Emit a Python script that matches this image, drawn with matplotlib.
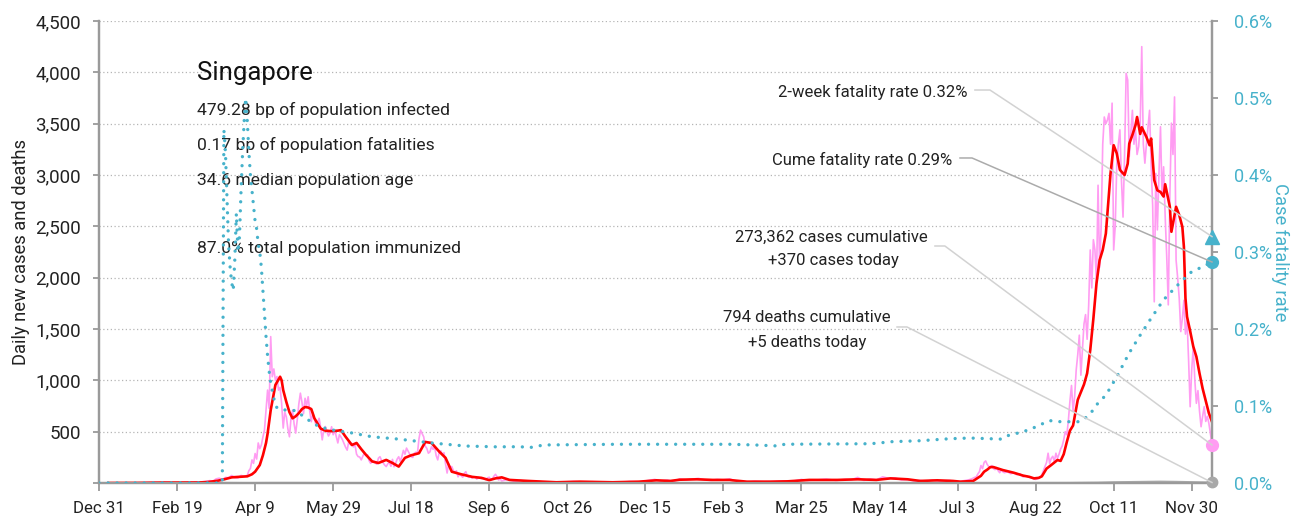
import numpy as np
import pandas as pd
import matplotlib
matplotlib.use("Agg")
import matplotlib.pyplot as plt
import matplotlib.dates as mdates
from matplotlib.lines import Line2D
from matplotlib.ticker import FuncFormatter, MultipleLocator

START = pd.Timestamp("2019-12-31")
LAST_DAY = 713  # Dec 13, 2021

# Daily new cases (day offset from Dec 31, 2019 -> cases)
case_days = [
    0, 22, 23, 27, 31, 35, 38, 42, 46, 50, 54, 58, 62, 65, 68, 71, 73, 75, 77, 79,
    81, 83, 85, 87, 89, 91, 93, 95,
    96, 97, 98, 99, 100, 101, 102, 103, 104, 105, 106, 107, 108, 109, 110, 111, 112,
    113, 114, 115, 116, 117, 118, 119, 120, 121, 122, 123, 124, 125, 126, 127, 128,
    129, 130, 131, 132, 133, 134, 135, 136, 137, 138, 139, 140, 141, 142, 143, 144,
    145, 146, 147, 148, 149, 150, 151, 152, 153, 154, 155, 156, 157, 158, 159, 160,
    161, 162, 163, 164, 165, 166, 167, 168, 169, 170, 171, 172, 173, 174, 175, 176,
    177, 178, 179, 180, 181, 182, 183, 184, 185, 186, 187, 188, 189, 190, 191, 192,
    193, 194, 195, 196, 197, 198, 199, 200, 201, 202, 203, 204, 205, 206, 207, 208,
    209, 210, 211, 212, 213, 214, 215, 216, 217, 218, 219, 220, 221, 222, 223, 224,
    225, 226, 227, 228, 229, 230, 231, 232, 233, 234, 235, 236, 237, 238, 239, 240,
    241, 242, 243, 244, 245, 246, 247, 248, 249, 250, 251, 252, 253, 254, 255, 256,
    257, 258,
    262, 266, 270, 275, 280, 286, 292, 298, 304, 310, 316, 322, 328, 334, 340, 346,
    352, 356, 360, 364, 368, 372, 376, 380, 384, 388, 392, 396, 400, 404, 408, 412,
    416, 420, 426, 432, 438, 444, 450, 454, 460, 466, 472, 478, 482, 486, 490, 494,
    498, 502, 506, 510, 514, 518, 522, 526, 530, 534, 538,
    540, 545, 548, 551, 553, 555, 557, 559, 561, 562, 563, 564, 565, 566, 567, 568,
    569, 570, 571, 572, 573, 574, 575, 576, 577, 578, 579, 580, 582, 584, 586, 588,
    590, 592, 594, 596, 598, 599,
    600, 601, 602, 603, 604, 605, 606, 607, 608, 609, 610, 611, 612, 613, 614, 615,
    616, 617, 618, 619, 620, 621, 622, 623, 624, 625, 626, 627, 628, 629, 630, 631,
    632, 633, 634, 635, 636, 637, 638, 639, 640, 641, 642, 643, 644, 645, 646, 647,
    648, 649, 650, 651, 652, 653, 654, 655, 656, 657, 658, 659, 660, 661, 662, 663,
    664, 665, 666, 667, 668, 669, 670, 671, 672, 673, 674, 675, 676, 677, 678, 679,
    680, 681, 682, 683, 684, 685, 686, 687, 688, 689, 690, 691, 692, 693, 694, 695,
    696, 697, 698, 699, 700, 701, 702, 703, 704, 705, 706, 707, 708, 709, 710, 711,
    712, 713,
]
case_vals = [
    0, 0, 1, 3, 3, 6, 2, 7, 3, 1, 3, 5, 8, 10, 14, 23, 17, 40, 47, 32,
    54, 51, 73, 52, 49, 74, 65, 75,
    120, 142, 225, 191, 287, 233, 390, 334, 370, 447, 515, 710, 905, 728, 1426, 1035, 1111,
    1000, 1037, 905, 931, 775, 535, 690, 645, 528, 450, 632, 710, 573, 486, 615, 768,
    875, 788, 675, 825, 753, 840, 700, 597, 682, 620, 565, 590, 630, 544, 420, 518,
    550, 500, 458, 485, 548, 470, 515, 451, 390, 470, 448, 420, 383, 347, 320, 407,
    374, 386, 351, 370, 280, 257, 253, 225, 261, 292, 268, 275, 218, 191, 213, 214,
    195, 183, 242, 256, 220, 198, 175, 160, 187, 201, 163, 230, 158, 190, 233, 256,
    211, 256, 318, 280, 340, 310, 282, 256, 249, 290, 300, 290, 432, 515, 481, 450,
    359, 337, 290, 303, 354, 328, 353, 266, 225, 305, 313, 275, 295, 188, 97, 188,
    154, 160, 121, 102, 119, 60, 89, 72, 56, 93, 110, 64, 55, 68, 47, 58,
    60, 38, 54, 49, 42, 45, 40, 33, 51, 56, 27, 39, 67, 85, 61, 29,
    39, 20,
    35, 15, 25, 12, 18, 8, 5, 10, 15, 8, 12, 5, 9, 6, 15, 10,
    25, 35, 20, 28, 15, 40, 30, 38, 45, 30, 25, 35, 30, 40, 20, 15,
    10, 18, 12, 14, 20, 15, 35, 25, 30, 38, 25, 35, 30, 55, 25, 40,
    30, 60, 45, 50, 30, 35, 20, 25, 15, 30, 20,
    20, 25, 15, 10, 20, 25, 30, 40, 55, 60, 88, 110, 170, 140, 200, 215,
    180, 160, 150, 170, 140, 130, 150, 120, 100, 130, 110, 100, 110, 90, 100, 80,
    90, 60, 70, 55, 45, 40,
    35, 40, 50, 60, 80, 120, 160, 200, 290, 190, 240, 260, 210, 290, 240, 280,
    330, 360, 420, 500, 470, 610, 800, 950, 700, 840, 1100, 1250, 1440, 1050, 1300, 1550,
    1640, 1400, 1730, 2270, 1900, 2370, 2270, 1950, 2900, 2100, 2500, 3300, 3565, 3500, 3535, 3600,
    3300, 3700, 2270, 2500, 3100, 3300, 3440, 2950, 2590, 3200, 3990, 3925, 3180, 3400, 3630, 3300,
    3440, 3200, 3275, 3500, 4250, 3300, 3115, 3300, 3470, 3630, 3100, 2700, 1765, 3015, 2465, 3000,
    3470, 2800, 3080, 2600, 2205, 1735, 2800, 3505, 3200, 3760, 2170, 2000, 1800, 1475, 1600, 1780,
    1450, 1590, 1200, 743, 1100, 1330, 1000, 776, 900, 700, 548, 650, 743, 600, 650, 581,
    480, 370,
]

# 7-day average of new cases
avg_days = [
    6, 25, 40, 55, 64, 70, 76, 80, 85, 90, 95, 98, 100, 103, 105, 107, 108, 110, 113,
    116, 117, 118, 120, 122, 124, 126, 128, 130, 132, 134, 136, 138, 140, 142, 145,
    149, 153, 155, 158, 162, 165, 168, 171, 175, 179, 184, 188, 192, 196, 200, 205,
    209, 213, 218, 222, 226, 232, 239, 245, 250, 254, 258, 263, 275, 293, 308, 329,
    346, 357, 366, 372, 383, 393, 404, 406, 415, 430, 441, 455, 473, 486, 498, 507,
    518, 526, 537, 547, 552, 560, 562, 565, 567, 569, 571, 573, 576, 579, 586, 592,
    596, 599, 602, 604, 607, 610, 614, 616, 618, 620, 622, 624, 627, 631, 633, 635,
    637, 639, 641, 643, 645, 648, 650, 652, 654, 657, 659, 660, 662, 664, 665, 667,
    668, 671, 673, 674, 676, 678, 680, 682, 683, 686, 687, 690, 692, 694, 695, 696,
    697, 699, 701, 703, 705, 707, 709, 711, 713,
]
avg_vals = [
    0, 1, 4, 4, 5, 10, 22, 35, 55, 60, 65, 85, 110, 175, 270, 390, 480, 710, 955,
    1035, 1000, 905, 790, 690, 630, 650, 680, 720, 740, 735, 720, 630, 580, 530, 510,
    505, 510, 515, 450, 370, 390, 330, 275, 210, 195, 225, 195, 160, 245, 270, 290,
    400, 390, 305, 245, 110, 85, 60, 50, 28, 45, 55, 30, 20, 7, 13, 7,
    13, 26, 20, 32, 36, 30, 30, 26, 13, 13, 16, 30, 30, 36, 30, 45,
    36, 20, 26, 20, 13, 20, 40, 70, 110, 130, 155, 155, 140, 126, 100, 72,
    60, 45, 50, 65, 140, 175, 224, 215, 280, 400, 510, 560, 810, 960, 1068, 1295,
    1600, 1944, 2170, 2270, 2430, 3015, 3290, 3210, 3050, 3000, 3110, 3305, 3390, 3485, 3565, 3400,
    3465, 3370, 3290, 3355, 2950, 2850, 2835, 2790, 2910, 2690, 2447, 2690, 2610, 2495, 2300, 1800,
    1620, 1480, 1330, 1230, 1068, 920, 800, 680, 597,
]

# Cumulative case fatality rate, percent
cfr_days = [
    0, 79, 80, 81, 82, 83, 84, 85, 86, 87, 88, 89, 90, 91, 92, 93, 94, 95, 96, 97,
    98, 99, 100, 101, 102, 103, 104, 105, 106, 107, 108, 109, 110, 111, 112, 113, 115,
    118, 126, 130, 134, 141, 149, 162, 175, 192, 213, 235, 254, 270, 276, 285, 333,
    404, 420, 436, 439, 494, 500, 507, 526, 545, 558, 578, 582, 592, 598, 605, 609,
    616, 628, 633, 637, 640, 645, 652, 660, 667, 674, 682, 691, 699, 713,
]
cfr_vals = [
    0, 0, 0.459, 0.43, 0.37, 0.31, 0.28, 0.26, 0.25, 0.29, 0.35, 0.30, 0.32, 0.38, 0.43,
    0.47, 0.50, 0.47, 0.43, 0.40, 0.38, 0.36, 0.34, 0.33, 0.31, 0.30, 0.28, 0.25, 0.22,
    0.19, 0.165, 0.145, 0.13, 0.12, 0.11, 0.10, 0.096, 0.095, 0.094, 0.088, 0.082,
    0.073, 0.069, 0.065, 0.060, 0.057, 0.052, 0.048, 0.047, 0.0471, 0.046, 0.0494,
    0.0503, 0.0503, 0.0494, 0.048, 0.0503, 0.051, 0.052, 0.0536, 0.0549, 0.0575,
    0.0584, 0.057, 0.0614, 0.0666, 0.071, 0.0775, 0.081, 0.0796, 0.0796, 0.086, 0.095,
    0.104, 0.114, 0.138, 0.169, 0.192, 0.214, 0.238, 0.257, 0.273, 0.287,
]

# Daily deaths
death_days = [0, 81, 95, 110, 130, 160, 200, 300, 560, 620, 640, 650, 660, 670, 680, 690, 700, 713]
death_vals = [0, 1, 0, 1, 1, 0, 0, 0, 0, 1, 4, 8, 10, 12, 14, 12, 9, 5]

# Latest-day figures
two_week_cfr = 0.32
cume_cfr = 0.287
cases_today = 370
deaths_today = 5
cases_total = 273362
deaths_total = 794

info_lines = [
    "479.28 bp of population infected",
    "0.17 bp of population fatalities",
    "34.6 median population age",
    "87.0% total population immunized",
]

tick_step_days = 50
n_ticks = 15

PINK = "#ff9cf2"
RED = "#ff0000"
CYAN = "#47b2cb"
GREY = "#a8a8a8"
AXIS = "#9a9a9a"
TEXT = "#222222"

plt.rcParams["font.family"] = ["Roboto", "DejaVu Sans"]


def to_dates(days):
    return START + pd.to_timedelta(np.asarray(days, dtype=float), unit="D")


W, H = 1301, 522
fig = plt.figure(figsize=(W / 100, H / 100), dpi=100)
ax = fig.add_axes([99 / W, 39 / H, 1113 / W, 462 / H])
ax2 = ax.twinx()

end_date = START + pd.Timedelta(days=LAST_DAY)
ax.set_xlim(START, end_date)
ax.set_ylim(0, 4500)
ax2.set_ylim(0, 0.6)

# grid
ax.yaxis.set_major_locator(MultipleLocator(500))
ax.grid(axis="y", color="#b5b5b5", linestyle=(0, (1, 2)), linewidth=0.9)
ax.set_axisbelow(True)

# series
ax.plot(to_dates(case_days), case_vals, color=PINK, lw=1.2, zorder=2, solid_joinstyle="round")
ax.plot(to_dates(death_days), death_vals, color=GREY, lw=1.4, zorder=3)
ax.plot(to_dates(avg_days), avg_vals, color=RED, lw=1.9, zorder=4, solid_joinstyle="round")
ax2.plot(to_dates(cfr_days), cfr_vals, color=CYAN, lw=2.4,
         linestyle=(0, (0.01, 2.7)), dash_capstyle="round", zorder=3)

# end markers
ax2.plot([end_date], [two_week_cfr], marker="^", ms=9.5, color=CYAN, clip_on=False, zorder=6)
ax2.plot([end_date], [cume_cfr], marker="o", ms=8.5, color=CYAN, clip_on=False, zorder=6)
ax2.plot([end_date], [cases_today * 0.6 / 4500], marker="o", ms=8.5, color=PINK,
         clip_on=False, zorder=6)
ax2.plot([end_date], [deaths_today * 0.6 / 4500], marker="o", ms=7.5, color=GREY,
         clip_on=False, zorder=6)

# axes styling
for a in (ax, ax2):
    a.spines["top"].set_visible(False)
    for s in ("left", "right", "bottom"):
        a.spines[s].set_color(AXIS)
        a.spines[s].set_linewidth(1.6)

ax.yaxis.set_major_formatter(FuncFormatter(lambda v, p: "" if v == 0 else f"{int(v):,}"))
ax.tick_params(axis="y", length=4, width=1.3, color=AXIS, pad=9, labelsize=13.5, labelcolor=TEXT)

tick_dates = [START + pd.Timedelta(days=tick_step_days * k) for k in range(n_ticks)]
ax.set_xticks(tick_dates)
ax.set_xticklabels([f"{d:%b} {d.day}" for d in tick_dates])
ax.tick_params(axis="x", length=6, width=1.3, color=AXIS, pad=7, labelsize=12.2, labelcolor=TEXT)

ax2.yaxis.set_major_locator(MultipleLocator(0.1))
ax2.yaxis.set_major_formatter(FuncFormatter(lambda v, p: f"{v:.1f}%"))
ax2.tick_params(axis="y", length=4, width=1.3, color=AXIS, pad=12, labelsize=13, labelcolor=CYAN)

ax.set_ylabel("Daily new cases and deaths", fontsize=13.2, color=TEXT, labelpad=4)
ax2.set_ylabel("Case fatality rate", fontsize=13.2, color=CYAN, rotation=270, labelpad=12)

# country block
ax.text(0.0881, 0.8723, "Singapore", transform=ax.transAxes, fontsize=18.5,
        color="#111111", va="baseline", ha="left")
for y, line in zip([0.7965, 0.7208, 0.645, 0.4978], info_lines):
    ax.text(0.0881, y, line, transform=ax.transAxes, fontsize=12.6,
            color=TEXT, va="baseline", ha="left")

# callouts
ax.text(0.7799, 0.8355, f"2-week fatality rate {two_week_cfr:.2f}%", transform=ax.transAxes,
        fontsize=12, color=TEXT, ha="right", va="baseline")
ax.text(0.7664, 0.6883, f"Cume fatality rate {cume_cfr:.2f}%", transform=ax.transAxes,
        fontsize=12, color=TEXT, ha="right", va="baseline")
ax.text(0.6577, 0.5216, f"{cases_total:,} cases cumulative", transform=ax.transAxes,
        fontsize=12, color=TEXT, ha="center", va="baseline")
ax.text(0.6595, 0.4719, f"+{cases_today} cases today", transform=ax.transAxes,
        fontsize=12, color=TEXT, ha="center", va="baseline")
ax.text(0.6361, 0.3485, f"{deaths_total} deaths cumulative", transform=ax.transAxes,
        fontsize=12, color=TEXT, ha="center", va="baseline")
ax.text(0.6361, 0.2944, f"+{deaths_today} deaths today", transform=ax.transAxes,
        fontsize=12, color=TEXT, ha="center", va="baseline")

to_fig = fig.transFigure.inverted()
end_num = mdates.date2num(end_date)


def leader(start_ax, bend_x, target_disp, color):
    p0 = ax.transAxes.transform(start_ax)
    p1 = ax.transAxes.transform((bend_x, start_ax[1]))
    pts = to_fig.transform(np.array([p0, p1, target_disp]))
    fig.add_artist(Line2D(pts[:, 0], pts[:, 1], transform=fig.transFigure,
                          color=color, lw=1.1, zorder=5))


leader((0.787, 0.8506), 0.8005, ax2.transData.transform((end_num, two_week_cfr)), "#d2d2d2")
leader((0.7736, 0.7035), 0.7844, ax2.transData.transform((end_num, cume_cfr)), "#ababab")
leader((0.7511, 0.513), 0.760, ax.transData.transform((end_num, cases_today)), "#d2d2d2")
leader((0.717, 0.3377), 0.726, ax.transData.transform((end_num, deaths_today)), "#d2d2d2")

fig.savefig("out.png", dpi=100)
